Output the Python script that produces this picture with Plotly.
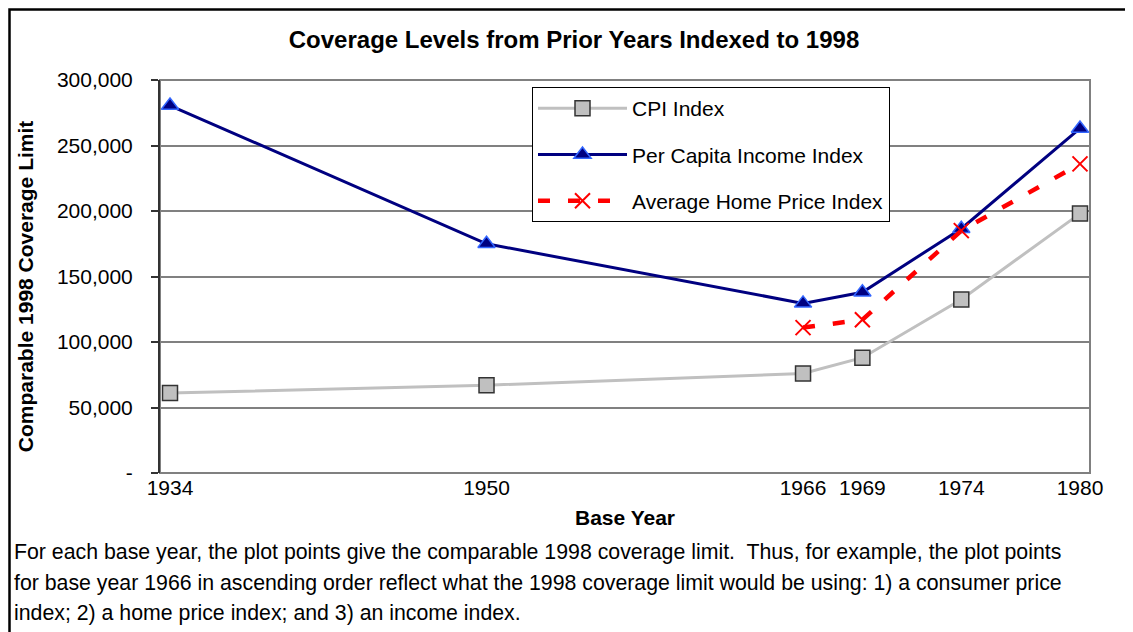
import plotly.graph_objects as go

# ---- data ----
years = [1934, 1950, 1966, 1969, 1974, 1980]
cpi_index = [61000, 67000, 76000, 88000, 132500, 198000]
per_capita_income_index = [280500, 175000, 129500, 138000, 186500, 263000]
home_years = [1966, 1969, 1974, 1980]
home_price_index = [111000, 117000, 185000, 236000]

y_tick_values = [0, 50000, 100000, 150000, 200000, 250000, 300000]
y_tick_labels = ["-", "50,000", "100,000", "150,000", "200,000", "250,000", "300,000"]
x_tick_labels = ["1934", "1950", "1966", "1969", "1974", "1980"]

title_text = "Coverage Levels from Prior Years Indexed to 1998"
x_title = "Base Year"
y_title = "Comparable 1998 Coverage Limit"
footnote_lines = [
    "For each base year, the plot points give the comparable 1998 coverage limit.  Thus, for example, the plot points",
    "for base year 1966 in ascending order reflect what the 1998 coverage limit would be using: 1) a consumer price",
    "index; 2) a home price index; and 3) an income index.",
]

# ---- layout geometry (page pixels; page body has an 8px margin) ----
OX, OY = 8, 8
W, H = 1133 - OX, 632 - OY
PL, PR, PT, PB = 160 - OX, 1090 - OX, 80 - OY, 472.7 - OY
FONT = "Arial, Liberation Sans, sans-serif"


def px_x(px):
    return (px - OX - PL) / (PR - PL)


def px_y(py):
    return (PB - (py - OY)) / (PB - PT)


fig = go.Figure()

fig.add_trace(go.Scatter(
    x=years, y=cpi_index, name="CPI Index", mode="lines+markers",
    line=dict(color="#C0C0C0", width=3),
    marker=dict(symbol="square", size=15, color="#C0C0C0",
                line=dict(color="#333333", width=1.5)),
    legendgroup="a",
))
fig.add_trace(go.Scatter(
    x=years, y=per_capita_income_index, name="Per Capita Income Index",
    mode="lines+markers",
    line=dict(color="#000080", width=3),
    marker=dict(symbol="triangle-up", size=15, color="#000080",
                line=dict(color="#3366FF", width=1.5)),
    legendgroup="b",
))
fig.add_trace(go.Scatter(
    x=home_years, y=home_price_index, name="Average Home Price Index",
    mode="lines+markers",
    line=dict(color="#FF0000", width=4.5, dash="12px,18px"),
    marker=dict(symbol="x-thin", size=15, color="#FF0000",
                line=dict(color="#FF0000", width=2)),
    legendgroup="c",
))

fig.update_layout(
    width=W, height=H,
    margin=dict(l=PL, r=W - PR, t=PT, b=H - PB, autoexpand=False),
    paper_bgcolor="white", plot_bgcolor="white",
    font=dict(family=FONT, size=21, color="black"),
    title=dict(text="<b>%s</b>" % title_text, x=(574 - OX) / W,
               y=1 - (40 - OY) / H, xanchor="center", yanchor="middle",
               font=dict(size=24, family=FONT, color="black")),
    showlegend=True,
    legend=dict(
        xref="container", yref="container",
        x=(532 - OX) / W, y=1 - (87 - OY) / H, xanchor="left", yanchor="top",
        bgcolor="white", bordercolor="black", borderwidth=1,
        font=dict(size=21, family=FONT, color="black"),
        tracegroupgap=16, itemwidth=89, traceorder="grouped",
    ),
    xaxis=dict(
        range=[1933.494, 1980.506], tickmode="array",
        tickvals=years, ticktext=x_tick_labels, tickangle=0,
        showgrid=False, zeroline=False, showline=False, ticks="",
        tickfont=dict(size=21, family=FONT, color="black"),
        title=dict(text="<b>%s</b>" % x_title, standoff=12,
                   font=dict(size=21, family=FONT, color="black")),
    ),
    yaxis=dict(
        range=[0, 300000], tickmode="array",
        tickvals=y_tick_values, ticktext=y_tick_labels,
        showgrid=True, gridcolor="#808080", gridwidth=1.5,
        zeroline=False, showline=True, linecolor="#333333", linewidth=2,
        ticks="outside", ticklen=7, tickcolor="#333333", tickwidth=1.5,
        ticklabelstandoff=14,
        tickfont=dict(size=21, family=FONT, color="black"),
    ),
)

# plot area border (gray) and outer frame (black)
fig.add_shape(type="rect", xref="paper", yref="paper", x0=0, x1=1, y0=0, y1=1,
              line=dict(color="#808080", width=2), layer="below")
fig.add_shape(type="rect", xref="paper", yref="paper",
              x0=px_x(9.5), x1=px_x(1128), y0=px_y(660), y1=px_y(9.5),
              line=dict(color="black", width=2.5))

# y-axis title
fig.add_annotation(text="<b>%s</b>" % y_title, xref="paper", yref="paper",
                   x=px_x(25), y=px_y(287), textangle=-90, showarrow=False,
                   xanchor="center", yanchor="middle",
                   font=dict(size=21, family=FONT, color="black"))

# footnote
for line, cy in zip(footnote_lines, [552, 583, 613]):
    fig.add_annotation(text=line, xref="paper", yref="paper",
                       x=px_x(12), y=px_y(cy), showarrow=False,
                       xanchor="left", yanchor="middle", align="left",
                       font=dict(size=21.3, family=FONT, color="black"))

fig.write_html("out.html")
